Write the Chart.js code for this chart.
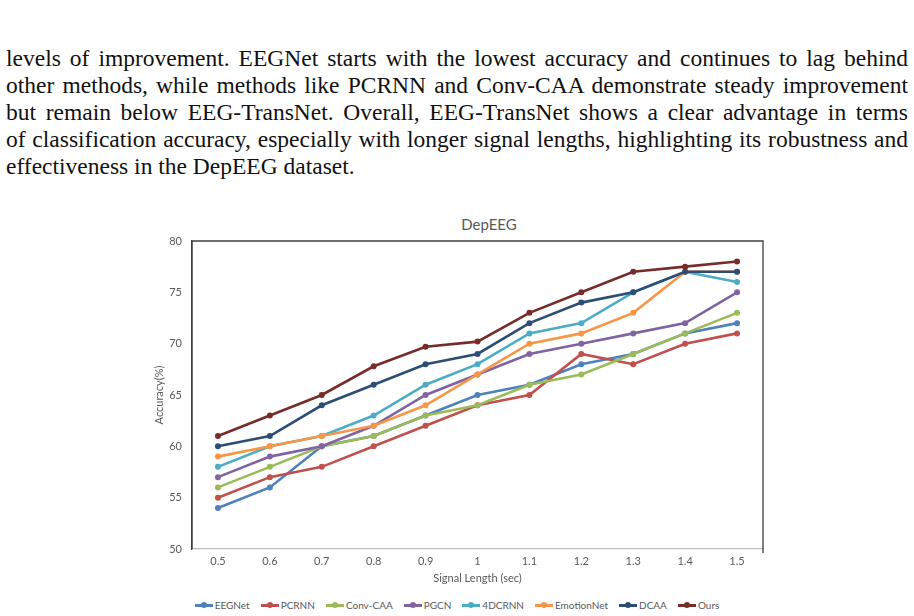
<!DOCTYPE html>
<html>
<head>
<meta charset="utf-8">
<script src="https://cdn.jsdelivr.net/npm/chart.js@4/dist/chart.umd.min.js"></script>
<style>
  html, body { margin: 0; padding: 0; background: #fff; }
  body { width: 914px; height: 616px; position: relative; overflow: hidden; }
  #text { position: absolute; left: 6px; top: 45px; width: 902px;
          font-family: "Liberation Serif", "DejaVu Serif", serif; font-size: 23.5px;
          line-height: 27px; color: #111; }
  #text div { white-space: nowrap; text-align: justify; text-align-last: justify; }
  #text div.last { text-align-last: left; }
  #title { position: absolute; left: 389px; width: 200px; top: 214px; text-align: center;
           font-family: Lato, "Open Sans", sans-serif; font-size: 15px; line-height: 20px; color: #595959; }
  #wrap { position: absolute; left: 140px; top: 200px; width: 640px; height: 390px; }
  #legend { position: absolute; left: 0; width: 914px; top: 599px; display: flex; justify-content: center;
            font-family: Lato, "Open Sans", sans-serif; font-size: 10px; color: #595959; padding-left: 0; }
  #legend .item { display: flex; align-items: center; margin: 0 5.5px; }
  #legend .sym { position: relative; width: 18px; height: 12px; margin-right: 2px; }
  #legend .sym .ln { position: absolute; left: 0; right: 0; top: 5px; height: 2.5px; }
  #legend .sym .dt { position: absolute; left: 6px; top: 3px; width: 6px; height: 6px; border-radius: 50%; }
</style>
</head>
<body>
<div id="text">
  <div>levels of improvement. EEGNet starts with the lowest accuracy and continues to lag behind</div>
  <div>other methods, while methods like PCRNN and Conv-CAA demonstrate steady improvement</div>
  <div>but remain below EEG-TransNet. Overall, EEG-TransNet shows a clear advantage in terms</div>
  <div>of classification accuracy, especially with longer signal lengths, highlighting its robustness and</div>
  <div class="last">effectiveness in the DepEEG dataset.</div>
</div>
<div id="title">DepEEG</div>
<div id="wrap"><canvas id="c" width="640" height="390"></canvas></div>
<div id="legend"></div>
<script>
const categories = ['0.5','0.6','0.7','0.8','0.9','1','1.1','1.2','1.3','1.4','1.5'];
const seriesNames = ['EEGNet','PCRNN','Conv-CAA','PGCN','4DCRNN','EmotionNet','DCAA','Ours'];
const eegnet     = [54, 56, 60, 61, 63, 65, 66, 68, 69, 71, 72];
const pcrnn      = [55, 57, 58, 60, 62, 64, 65, 69, 68, 70, 71];
const convcaa    = [56, 58, 60, 61, 63, 64, 66, 67, 69, 71, 73];
const pgcn       = [57, 59, 60, 62, 65, 67, 69, 70, 71, 72, 75];
const dcrnn4     = [58, 60, 61, 63, 66, 68, 71, 72, 75, 77, 76];
const emotionnet = [59, 60, 61, 62, 64, 67, 70, 71, 73, 77, 77];
const dcaa       = [60, 61, 64, 66, 68, 69, 72, 74, 75, 77, 77];
const ours       = [61, 63, 65, 67.8, 69.7, 70.2, 73, 75, 77, 77.5, 78];
const yTicks = [50, 55, 60, 65, 70, 75, 80];

const seriesValues = [eegnet, pcrnn, convcaa, pgcn, dcrnn4, emotionnet, dcaa, ours];
const colors = ['#4F81BD','#C0504D','#9BBB59','#8064A2','#4BACC6','#F79646','#2C4D75','#772C2A'];

const datasets = seriesNames.map((name, i) => ({
  label: name,
  data: seriesValues[i],
  borderColor: colors[i],
  backgroundColor: colors[i],
  borderWidth: 2.6,
  pointRadius: 3,
  pointStyle: 'circle',
  pointBorderWidth: 0,
  tension: 0,
  order: seriesNames.length - i
}));

const frame = {
  id: 'frame',
  beforeDatasetsDraw(chart) {
    const {ctx, chartArea: a} = chart;
    ctx.save();
    ctx.strokeStyle = '#404040';
    ctx.lineWidth = 1.3;
    ctx.beginPath();
    ctx.moveTo(a.left, a.bottom);
    ctx.lineTo(a.left, a.top);
    ctx.lineTo(a.right, a.top);
    ctx.lineTo(a.right, a.bottom + 4);
    ctx.stroke();
    ctx.restore();
  }
};

const tickFont = { family: 'Lato, "Open Sans", sans-serif', size: 11 };
new Chart(document.getElementById('c'), {
  type: 'line',
  data: { labels: categories, datasets },
  options: {
    responsive: false,
    animation: false,
    devicePixelRatio: 1,
    layout: { padding: { left: 0, right: 17, top: 41, bottom: 0 } },
    plugins: {
      legend: { display: false },
      tooltip: { enabled: false },
      title: { display: false }
    },
    scales: {
      x: {
        type: 'category',
        offset: true,
        grid: { display: false, drawTicks: false, offset: true },
        border: { display: true, color: '#BFBFBF', width: 1.3 },
        ticks: { color: '#595959', font: tickFont, padding: 6, maxRotation: 0 },
        title: { display: true, text: 'Signal Length (sec)', color: '#595959', font: tickFont, padding: { top: 0, bottom: 5 } },
        afterFit: s => { s.height = 41; }
      },
      y: {
        min: 50, max: 80,
        afterBuildTicks: s => { s.ticks = yTicks.map(v => ({ value: v })); },
        grid: { display: false, drawTicks: false },
        border: { display: true, color: '#404040', width: 1.3 },
        ticks: { color: '#595959', font: tickFont, padding: 10 },
        title: { display: true, text: 'Accuracy(%)', color: '#595959', font: tickFont, padding: { top: 13, bottom: 0 } },
        afterFit: s => { s.width = 52; }
      }
    }
  },
  plugins: [frame]
});

const lg = document.getElementById('legend');
seriesNames.forEach((name, i) => {
  const it = document.createElement('div');
  it.className = 'item';
  it.innerHTML = '<span class="sym"><span class="ln" style="background:' + colors[i] + '"></span><span class="dt" style="background:' + colors[i] + '"></span></span><span>' + name + '</span>';
  lg.appendChild(it);
});
</script>
</body>
</html>
